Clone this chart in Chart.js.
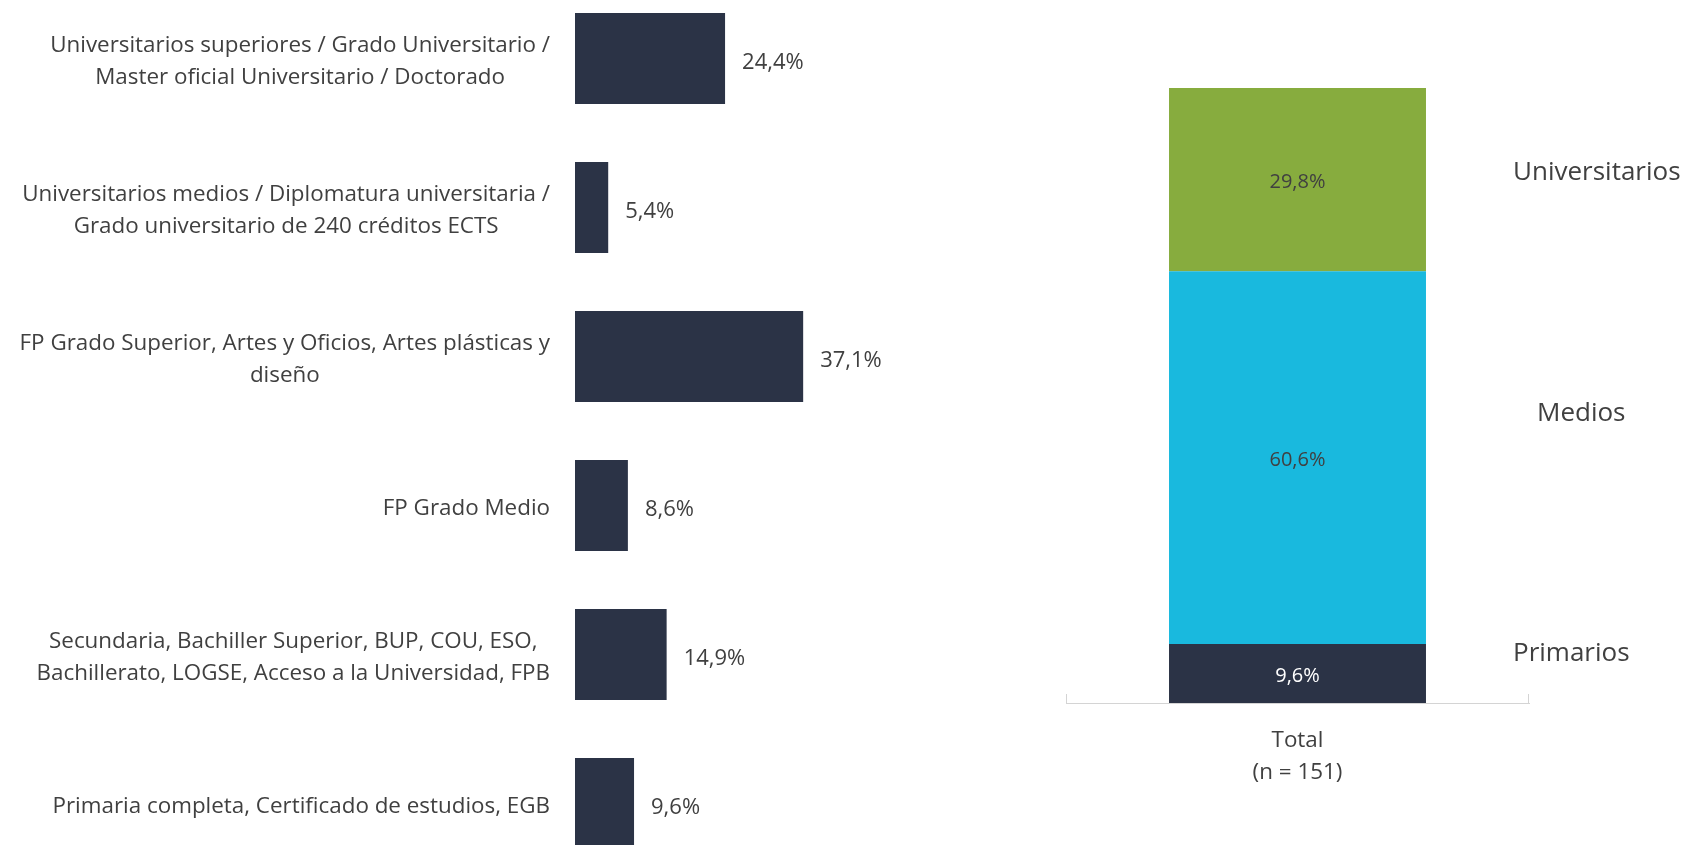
<!DOCTYPE html>
<html>
<head>
<meta charset="utf-8">
<script src="https://cdn.jsdelivr.net/npm/chart.js@4.4.1/dist/chart.umd.min.js"></script>
<style>
  html, body { margin: 0; padding: 0; background: #ffffff; overflow: hidden; }
  body { width: 1683px; height: 845px; position: relative; }
  #leftWrap { position: absolute; left: 0; top: -16px; width: 900px; height: 894px; }
  #rightWrap { position: absolute; left: 1040px; top: 0; width: 643px; height: 845px; }
</style>
</head>
<body>
<div id="leftWrap"><canvas id="left"></canvas></div>
<div id="rightWrap"><canvas id="right"></canvas></div>
<script>
// ---- data ----
const categories = [
  ['Universitarios superiores / Grado Universitario /', 'Master oficial Universitario / Doctorado'],
  ['Universitarios medios / Diplomatura universitaria /', 'Grado universitario de 240 créditos ECTS'],
  ['FP Grado Superior, Artes y Oficios, Artes plásticas y', 'diseño'],
  ['FP Grado Medio'],
  ['Secundaria, Bachiller Superior, BUP, COU, ESO,', 'Bachillerato, LOGSE, Acceso a la Universidad, FPB'],
  ['Primaria completa, Certificado de estudios, EGB']
];
const values = [24.4, 5.4, 37.1, 8.6, 14.9, 9.6];

const stackCategory = [['Total', '(n = 151)']];
const stackLabels = ['Primarios', 'Medios', 'Universitarios'];
const stackValues = [9.6, 60.6, 29.8];

// ---- styles ----
const NAVY = '#2b3346';
const GREEN = '#87ac3e';
const CYAN = '#19b9de';
const TEXT = '#404040';
const FONT = '"Open Sans", "Noto Sans", sans-serif';

const fmt = v => v.toFixed(1).replace('.', ',') + '%';

// custom centered-block category labels + value labels for left chart
const leftLabels = {
  id: 'leftLabels',
  afterDatasetsDraw(chart) {
    const ctx = chart.ctx;
    const yS = chart.scales.y;
    const meta = chart.getDatasetMeta(0);
    ctx.save();
    ctx.fillStyle = TEXT;
    ctx.font = '22.4px ' + FONT;
    ctx.textBaseline = 'middle';
    const rightEdge = 550;
    const lh = 32;
    const dy = 3;
    categories.forEach((lines, i) => {
      const yc = yS.getPixelForValue(i) + dy;
      const w = Math.max(...lines.map(l => ctx.measureText(l).width));
      const cx = rightEdge - w / 2;
      ctx.textAlign = 'center';
      lines.forEach((l, k) => {
        const y = yc + (k - (lines.length - 1) / 2) * lh;
        ctx.fillText(l, cx, y);
      });
    });
    ctx.font = '22px ' + FONT;
    ctx.textAlign = 'left';
    meta.data.forEach((bar, i) => {
      ctx.fillText(fmt(values[i]), bar.x + 17, bar.y + 4);
    });
    ctx.restore();
  }
};

new Chart(document.getElementById('left'), {
  type: 'bar',
  data: {
    labels: categories,
    datasets: [{
      data: values,
      backgroundColor: NAVY,
      borderWidth: 0,
      barPercentage: 0.61,
      categoryPercentage: 1.0
    }]
  },
  options: {
    indexAxis: 'y',
    responsive: true,
    maintainAspectRatio: false,
    animation: false,
    layout: { padding: { top: 0, bottom: 0, left: 0, right: 79 } },
    plugins: { legend: { display: false }, tooltip: { enabled: false } },
    scales: {
      x: { display: false, min: 0, max: 40 },
      y: {
        grid: { display: false, drawTicks: false },
        border: { display: false },
        ticks: { display: false },
        afterFit(scale) { scale.width = 575; }
      }
    }
  },
  plugins: [leftLabels]
});

// right stacked chart
const sideLabelAnchors = [
  { y: 8.5, x: 473 },
  { y: 47.5, x: 497 },
  { y: 86.7, x: 473 }
];

const rightLabels = {
  id: 'rightLabels',
  afterDatasetsDraw(chart) {
    const ctx = chart.ctx;
    const yS = chart.scales.y;
    const ca = chart.chartArea;
    ctx.save();
    // axis end ticks
    ctx.strokeStyle = '#d4d4d4';
    ctx.lineWidth = 1;
    ctx.beginPath();
    ctx.moveTo(ca.left + 0.5, ca.bottom - 9);
    ctx.lineTo(ca.left + 0.5, ca.bottom);
    ctx.moveTo(ca.right - 0.5, ca.bottom - 9);
    ctx.lineTo(ca.right - 0.5, ca.bottom);
    ctx.stroke();
    // value labels
    ctx.font = '20px ' + FONT;
    ctx.textAlign = 'center';
    ctx.textBaseline = 'middle';
    chart.data.datasets.forEach((ds, di) => {
      const bar = chart.getDatasetMeta(di).data[0];
      ctx.fillStyle = di === 0 ? '#ffffff' : TEXT;
      ctx.fillText(fmt(ds.data[0]), bar.x, (bar.y + bar.base) / 2 + 3);
    });
    // side labels
    ctx.font = '26px ' + FONT;
    ctx.fillStyle = TEXT;
    ctx.textAlign = 'left';
    stackLabels.forEach((l, i) => {
      ctx.fillText(l, sideLabelAnchors[i].x, yS.getPixelForValue(sideLabelAnchors[i].y) + 3);
    });
    ctx.restore();
  }
};

new Chart(document.getElementById('right'), {
  type: 'bar',
  data: {
    labels: stackCategory,
    datasets: [
      { label: stackLabels[0], data: [stackValues[0]], backgroundColor: NAVY },
      { label: stackLabels[1], data: [stackValues[1]], backgroundColor: CYAN },
      { label: stackLabels[2], data: [stackValues[2]], backgroundColor: GREEN }
    ]
  },
  options: {
    responsive: true,
    maintainAspectRatio: false,
    animation: false,
    datasets: { bar: { barPercentage: 0.555, categoryPercentage: 1.0, borderWidth: 0 } },
    layout: { padding: { top: 88, bottom: 0, left: 26, right: 154 } },
    plugins: { legend: { display: false }, tooltip: { enabled: false } },
    scales: {
      x: {
        stacked: true,
        grid: { display: false, drawTicks: false },
        border: { display: true, color: '#d4d4d4', width: 1 },
        ticks: { color: TEXT, font: { family: FONT, size: 22.4, lineHeight: '32px' }, padding: 22 },
        afterFit(scale) { scale.height = 142; }
      },
      y: { stacked: true, display: false, min: 0, max: 100 }
    }
  },
  plugins: [rightLabels]
});
</script>
</body>
</html>
